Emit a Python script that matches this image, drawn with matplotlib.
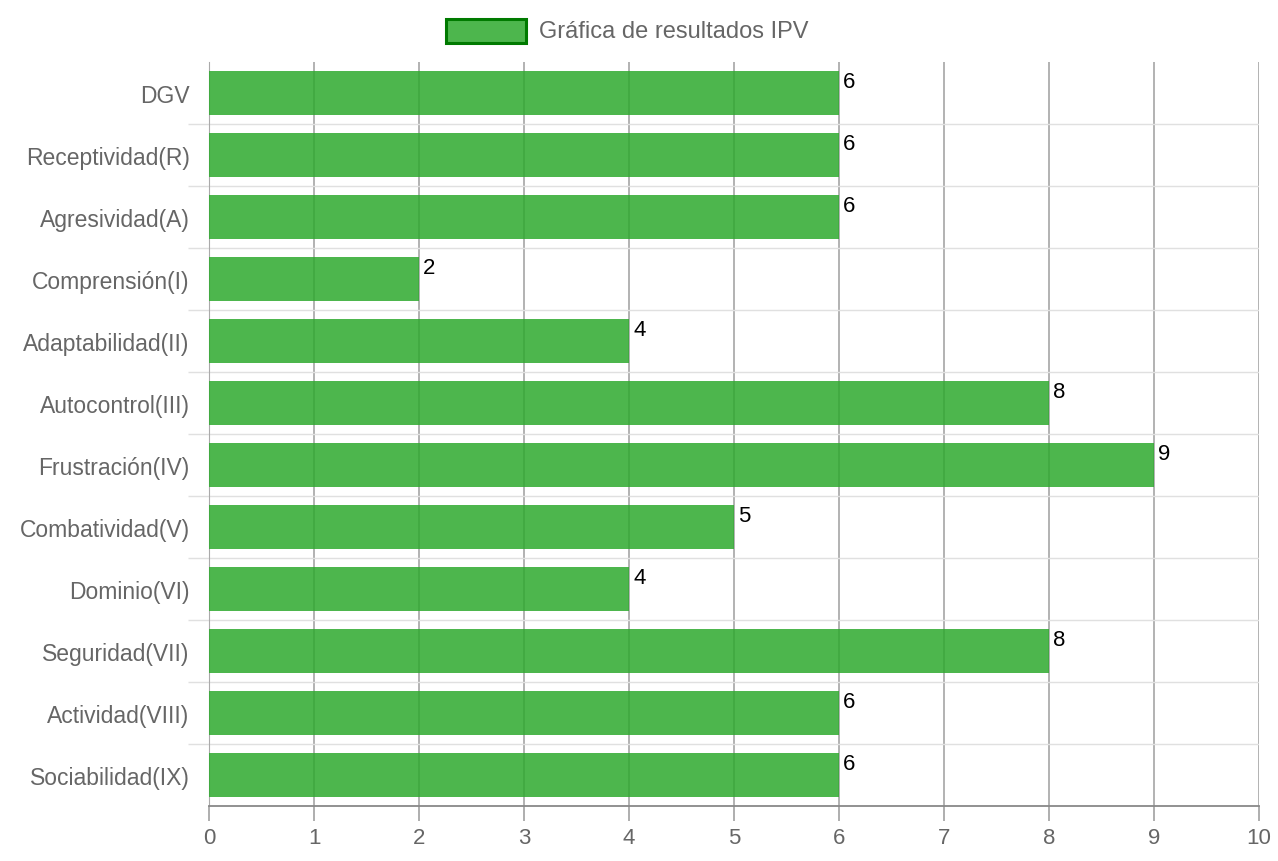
import matplotlib.pyplot as plt
import numpy as np
from matplotlib.patches import Rectangle

categorias = ['DGV', 'Receptividad(R)', 'Agresividad(A)', 'Comprensión(I)',
              'Adaptabilidad(II)', 'Autocontrol(III)', 'Frustración(IV)',
              'Combatividad(V)', 'Dominio(VI)', 'Seguridad(VII)',
              'Actividad(VIII)', 'Sociabilidad(IX)']
valores = [6, 6, 6, 2, 4, 8, 9, 5, 4, 8, 6, 6]
titulo_leyenda = 'Gráfica de resultados IPV'

plt.rcParams['font.family'] = ['Liberation Sans', 'DejaVu Sans']

fig = plt.figure(figsize=(12.78, 8.62), dpi=100)
ax = fig.add_axes([209 / 1278, 55 / 862, 1050 / 1278, 744 / 862])

y = np.arange(len(categorias))
ax.barh(y, valores, height=0.72, color='#2ea92e', alpha=0.85, zorder=3)

for yi, v in zip(y, valores):
    ax.annotate(str(v), (v, yi - 0.36), xytext=(3, 0), textcoords='offset points',
                ha='left', va='top', fontsize=16, color='black', zorder=4)

ax.set_xlim(0, 10)
ax.set_ylim(len(categorias) - 0.5, -0.5)
ax.set_xticks(range(0, 11))
ax.set_yticks(y)
ax.set_yticklabels(categorias)
ax.set_yticks(np.arange(0.5, len(categorias) - 0.5, 1), minor=True)

ax.tick_params(axis='x', length=11, width=1.1, color='#999999', labelsize=16,
               labelcolor='#666666', pad=4)
ax.tick_params(axis='y', which='major', length=0, labelsize=16.5,
               labelcolor='#666666', pad=14)
ax.tick_params(axis='y', which='minor', length=15, width=1, color='#e0e0e0')

ax.set_axisbelow(True)
ax.grid(axis='x', color='black', alpha=0.38, linewidth=1.1)
ax.grid(axis='y', which='minor', color='#e0e0e0', linewidth=1)

for s in ['top', 'right']:
    ax.spines[s].set_visible(False)
ax.spines['left'].set_color('#aaaaaa')
ax.spines['bottom'].set_color('#888888')
ax.spines['bottom'].set_linewidth(1.3)

# leyenda
fig.patches.append(Rectangle((446 / 1278, 1 - 44 / 862), 80 / 1278, 24 / 862,
                             transform=fig.transFigure, facecolor='#4db64d',
                             edgecolor='#007a00', linewidth=2.2))
fig.text(539 / 1278, 1 - 32 / 862, titulo_leyenda, fontsize=17, color='#666666',
         ha='left', va='center')

plt.savefig('out.png')
